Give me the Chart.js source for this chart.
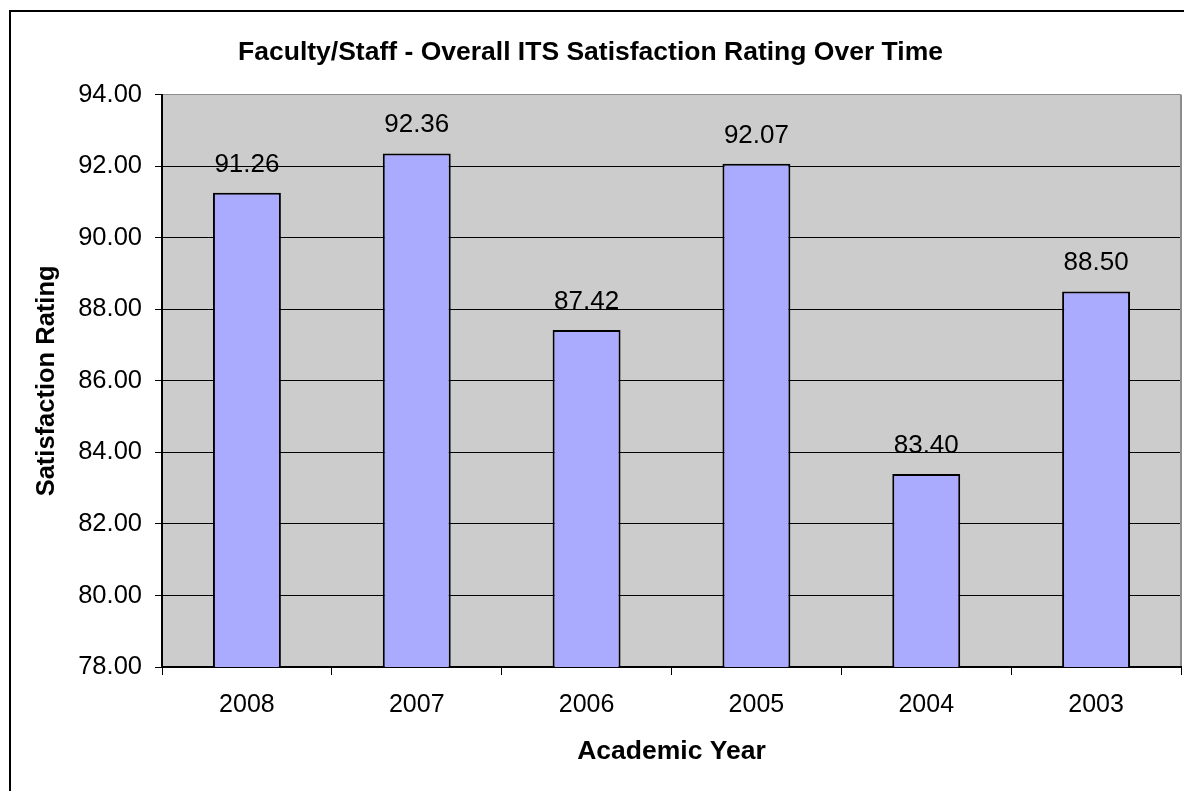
<!DOCTYPE html>
<html lang="en">
<head>
    <meta charset="UTF-8">
    <title>Faculty/Staff - Overall ITS Satisfaction Rating Over Time</title>
    <script src="https://cdn.jsdelivr.net/npm/chart.js"></script>
    <style>
        body {
            margin: 0;
            background: #fff;
        }
        canvas {
            display: block;
        }
    </style>
</head>
<body>
    <canvas id="myChart" width="1184" height="791"></canvas>

    <script>
        const years = ["2008", "2007", "2006", "2005", "2004", "2003"];
        const ratings = [91.26, 92.36, 87.42, 92.07, 83.40, 88.50];
        const yMin = 78;
        const yMax = 94;
        const yStep = 2;

        const fontFamily = '"Liberation Sans", Arial, sans-serif';

        // white page, outer frame and grey plot area
        const backgroundPlugin = {
            id: 'background',
            beforeDraw(chart) {
                const ctx = chart.ctx;
                const a = chart.chartArea;
                ctx.save();
                ctx.fillStyle = '#fff';
                ctx.fillRect(0, 0, chart.width, chart.height);
                ctx.strokeStyle = '#000';
                ctx.lineWidth = 2;
                ctx.beginPath();
                ctx.moveTo(10, chart.height);
                ctx.lineTo(10, 11);
                ctx.lineTo(chart.width, 11);
                ctx.stroke();
                ctx.fillStyle = '#cccccc';
                ctx.fillRect(a.left, a.top, a.right - a.left, a.bottom - a.top);
                ctx.restore();
            },
            afterDraw(chart) {
                const ctx = chart.ctx;
                const a = chart.chartArea;
                ctx.save();
                ctx.strokeStyle = '#8c8c8c';
                ctx.lineWidth = 2;
                ctx.beginPath();
                ctx.moveTo(a.right, a.top);
                ctx.lineTo(a.right, a.bottom - 1);
                ctx.stroke();
                ctx.restore();
            }
        };

        // value labels above the bars
        const valueLabels = {
            id: 'valueLabels',
            afterDatasetsDraw(chart) {
                const ctx = chart.ctx;
                const meta = chart.getDatasetMeta(0);
                ctx.save();
                ctx.font = '26px ' + fontFamily;
                ctx.fillStyle = '#000';
                ctx.textAlign = 'center';
                ctx.textBaseline = 'alphabetic';
                meta.data.forEach((bar, i) => {
                    ctx.fillText(ratings[i].toFixed(2), bar.x, bar.y - 21);
                });
                ctx.restore();
            }
        };

        const ctx = document.getElementById('myChart').getContext('2d');
        const myChart = new Chart(ctx, {
            type: 'bar',
            data: {
                labels: years,
                datasets: [{
                    label: 'Satisfaction Rating',
                    data: ratings,
                    backgroundColor: '#aaaaff',
                    borderColor: '#000',
                    borderWidth: 2,
                    borderSkipped: false,
                    barPercentage: 0.4,
                    categoryPercentage: 1.0
                }]
            },
            options: {
                responsive: false,
                maintainAspectRatio: false,
                animation: false,
                layout: {
                    padding: { left: 0, right: 3, top: 0, bottom: 0 }
                },
                plugins: {
                    legend: { display: false },
                    tooltip: { enabled: false },
                    title: {
                        display: true,
                        text: 'Faculty/Staff - Overall ITS Satisfaction Rating Over Time',
                        color: '#000',
                        font: { family: fontFamily, size: 26.5, weight: 'bold', lineHeight: 1.2 },
                        padding: { top: 37, bottom: 26 }
                    }
                },
                scales: {
                    x: {
                        afterFit(scale) {
                            scale.height = 124;
                        },
                        grid: {
                            display: true,
                            drawOnChartArea: false,
                            offset: true,
                            tickLength: 8,
                            tickColor: '#000',
                            lineWidth: 1
                        },
                        border: { display: true, color: '#000', width: 2 },
                        ticks: {
                            color: '#000',
                            padding: 15,
                            font: { family: fontFamily, size: 25, lineHeight: 1.2 }
                        },
                        title: {
                            display: true,
                            text: 'Academic Year',
                            color: '#000',
                            font: { family: fontFamily, size: 26.5, weight: 'bold', lineHeight: 1.2 },
                            padding: { top: 4, bottom: 23 }
                        }
                    },
                    y: {
                        min: yMin,
                        max: yMax,
                        afterFit(scale) {
                            scale.width = 162;
                        },
                        grid: {
                            color: (c) => c.tick && c.tick.value === yMax ? '#8c8c8c' : '#000',
                            tickColor: '#000',
                            tickLength: 7,
                            lineWidth: 1
                        },
                        border: { display: true, color: '#000', width: 2 },
                        ticks: {
                            stepSize: yStep,
                            color: '#000',
                            padding: 13,
                            font: { family: fontFamily, size: 25.5, lineHeight: 1.2 },
                            callback: (value) => value.toFixed(2)
                        },
                        title: {
                            display: true,
                            text: 'Satisfaction Rating',
                            color: '#000',
                            font: { family: fontFamily, size: 25.5, weight: 'bold', lineHeight: 1.2 },
                            padding: { top: 32, bottom: 4 }
                        }
                    }
                }
            },
            plugins: [backgroundPlugin, valueLabels]
        });
    </script>
</body>
</html>
